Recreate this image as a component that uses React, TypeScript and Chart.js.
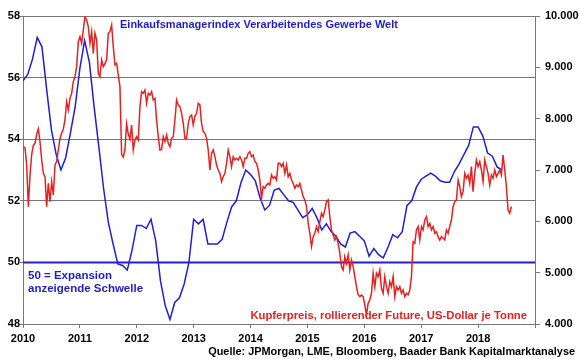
import { useEffect, useRef } from "react";
import { Chart, registerables } from "chart.js";

Chart.register(...registerables);

// ---- Data ----
// Global manufacturing PMI, monthly from Jan 2010
const pmiStartYear = 2010;
const pmiValues = [
  55.9, 56.1, 56.6, 57.3, 57.0, 55.6, 54.3, 53.5, 53.0, 53.4, 54.2, 55.05,
  56.3, 57.2, 56.5, 55.05, 53.75, 52.4, 51.3, 50.6, 49.95, 49.9, 49.75, 50.4,
  51.2, 51.2, 51.1, 51.4, 50.7, 49.4, 48.6, 48.15, 48.7, 48.85, 49.3, 50.0,
  51.4, 51.25, 51.4, 50.6, 50.6, 50.6, 50.75, 51.3, 51.8, 52.0, 52.6, 53.0,
  52.85, 52.65, 52.1, 51.7, 51.85, 52.35, 52.4, 52.2, 52.0, 51.95, 51.7, 51.45,
  51.55, 51.75, 51.45, 51.05, 51.25, 51.0, 50.85, 50.6, 50.5, 50.95, 51.0, 50.85,
  50.7, 50.2, 50.45, 50.25, 50.15, 50.5, 50.9, 50.8, 51.0, 51.85, 52.0, 52.45,
  52.7, 52.8, 52.9, 52.8, 52.65, 52.6, 52.6, 52.95, 53.2, 53.5, 53.8, 54.4,
  54.4, 54.1, 53.55, 53.45, 53.1, 53.0,
];

// Copper price (rolling future, USD/t), sampled roughly every 10-11 days from early Jan 2010
const copperStartYear = 2010.006;
const copperStepYears = 0.02928;
const copperValues = [
  7455, 7430, 7100, 6286, 6900, 7300, 7480, 7520, 7700, 7800,
  7550, 7200, 6935, 6870, 6286, 6740, 6384, 6773, 6513, 7098,
  7163, 7390, 7617, 7715, 7800, 7974, 8331, 8169, 8396, 8494,
  8721, 8818, 9013, 9500, 9598, 9468, 9727, 9990, 9922, 9792,
  9468, 9695, 9273, 9662, 9533, 8883, 8818, 9143, 9013, 9070,
  9150, 9662, 9695, 9825, 9403, 9046, 9078, 8851, 8624, 7300,
  7250, 7400, 7900, 7700, 7600, 7877, 7390, 7585, 7650, 7585,
  8234, 8526, 8494, 8559, 8300, 8494, 8461, 8526, 8364, 8396,
  7974, 7650, 7390, 7400, 7650, 7552, 7682, 7520, 7455, 7617,
  7650, 7974, 8364, 8267, 8234, 8104, 7910, 7617, 7617, 7910,
  8039, 8072, 7877, 8050,
  8104, 8299, 8267, 7910, 7747, 7715, 7617, 7390, 7000, 7325,
  7390, 7260, 7098, 7000, 6935, 6773, 6870, 6935, 7130, 7390,
  7260, 7065, 7260, 7195, 7228, 7195, 7260, 7195, 7065, 7228,
  7228, 7325, 7358, 7260, 7293, 7163, 7130, 7000, 6805, 6448,
  6675, 6643, 6708, 6740, 6708, 6903, 6838, 6870, 6805, 7130,
  7130,
  7065, 7130, 6935, 7098, 6870, 6935, 6805, 6740, 6643, 6708,
  6675, 6740, 6610, 6481, 6416, 6286, 5962, 5767, 5507, 5702,
  5767, 5897, 5799, 5994, 6156, 6091, 6221, 6384, 6416, 6091,
  5832, 5734, 5637, 5702, 5572, 5377, 5117, 5053, 5312, 5182,
  5345, 5053, 5247, 5117, 4923, 4728, 4566, 4533, 4566, 4533,
  4370,
  4176, 4403, 4468, 4598, 4988, 4728, 4988, 4923, 5053, 4695,
  4598, 4923, 4728, 4598, 4825, 4728, 4923, 4533, 4728, 4663,
  4728, 4598, 4663, 4533, 4598, 4566, 4663, 4923, 5600, 5572,
  5832, 5897, 5637, 5897, 5832, 6026, 6091, 5897, 5962, 5832,
  5897, 5767, 5799, 5702, 5637, 5702, 5669, 5637, 5832, 5767,
  5900,
  6026, 6286, 6384, 6416, 6805, 6675, 6481, 6578, 6935, 6838,
  6903, 6740, 7065, 6578, 6935, 7195, 7065, 7163, 7000, 6773,
  7195, 7065, 6935, 6708, 6903, 6838, 7000, 6870, 6935, 7000,
  6903, 7293, 7000, 6675, 6221, 6160, 6290,
];

const thresholdValue = 50;
const xMin = 2010;
const xMax = 2019;
const yearLabels = ["2010", "2011", "2012", "2013", "2014", "2015", "2016", "2017", "2018"];
const leftMin = 48, leftMax = 58, leftStep = 2;
const rightMin = 4000, rightMax = 10000, rightStep = 1000;

const titleText = "Einkaufsmanagerindex Verarbeitendes Gewerbe Welt";
const thresholdText1 = "50 = Expansion";
const thresholdText2 = "anzeigende Schwelle";
const copperText = "Kupferpreis, rollierender Future, US-Dollar je Tonne";
const sourceText = "Quelle: JPMorgan, LME, Bloomberg, Baader Bank Kapitalmarktanalyse";

// ---- Styles ----
const BLUE = "#2020cc";
const BLUE_TEXT = "#1e1ec8";
const RED = "#e32222";
const GRAY = "#777777";
const FONT_FAMILY = "'Liberation Sans', Arial, sans-serif";
const tickFont = { family: FONT_FAMILY, size: 11, weight: "bold" as const };

const textPlugin = {
  id: "chartTexts",
  afterDraw(chart: any) {
    const ctx = chart.ctx as CanvasRenderingContext2D;
    const a = chart.chartArea;
    ctx.save();
    ctx.textBaseline = "middle";
    ctx.fillStyle = BLUE_TEXT;
    ctx.textAlign = "left";
    ctx.font = `bold 11px ${FONT_FAMILY}`;
    ctx.fillText(titleText, a.left + 97, a.top + 9);
    ctx.font = `bold 11.5px ${FONT_FAMILY}`;
    ctx.fillText(thresholdText1, a.left + 5, a.top + 260);
    ctx.fillText(thresholdText2, a.left + 5, a.top + 273);
    ctx.fillStyle = RED;
    ctx.textAlign = "right";
    ctx.font = `bold 11.3px ${FONT_FAMILY}`;
    ctx.fillText(copperText, a.right - 8, a.bottom - 8);
    ctx.fillStyle = "#000";
    ctx.font = `bold 10.9px ${FONT_FAMILY}`;
    ctx.fillText(sourceText, chart.width - 5, a.bottom + 28);
    ctx.restore();
  },
};

export default function App() {
  const ref = useRef<HTMLCanvasElement | null>(null);

  useEffect(() => {
    if (!ref.current) return;
    const chart = new Chart(ref.current, {
      type: "line",
      data: {
        datasets: [
          {
            label: "Kupferpreis",
            data: copperValues.map((v, i) => ({ x: copperStartYear + i * copperStepYears, y: v })),
            yAxisID: "yR",
            borderColor: RED,
            borderWidth: 1.5,
            pointRadius: 0,
            tension: 0,
            order: 0,
          },
          {
            label: "PMI",
            data: pmiValues.map((v, i) => ({ x: pmiStartYear + i / 12, y: v })),
            yAxisID: "yL",
            borderColor: BLUE,
            borderWidth: 1.5,
            pointRadius: 0,
            tension: 0,
            order: 1,
          },
          {
            label: "Schwelle",
            data: [
              { x: xMin, y: thresholdValue },
              { x: xMax, y: thresholdValue },
            ],
            yAxisID: "yL",
            borderColor: BLUE,
            borderWidth: 2,
            pointRadius: 0,
            order: 2,
          },
        ],
      },
      options: {
        animation: false,
        responsive: false,
        maintainAspectRatio: false,
        layout: { padding: { top: 16, left: 0, right: 0, bottom: 0 } },
        plugins: { legend: { display: false }, tooltip: { enabled: false } },
        scales: {
          x: {
            type: "linear",
            min: xMin,
            max: xMax,
            ticks: {
              stepSize: 1,
              autoSkip: false,
              maxRotation: 0,
              padding: 4,
              color: "#000",
              font: tickFont,
              callback: (v: any) => {
                const idx = Math.round(Number(v)) - xMin;
                return yearLabels[idx] ?? "";
              },
            },
            grid: { drawOnChartArea: false, drawTicks: true, tickLength: 4, color: GRAY },
            border: { color: GRAY },
            afterFit: (s: any) => {
              s.height = 35;
            },
          },
          yL: {
            type: "linear",
            position: "left",
            min: leftMin,
            max: leftMax,
            ticks: { stepSize: leftStep, padding: 0, color: "#000", font: tickFont },
            grid: { color: GRAY, tickLength: 3 },
            border: { color: GRAY },
            afterFit: (s: any) => {
              s.width = 23;
            },
          },
          yR: {
            type: "linear",
            position: "right",
            min: rightMin,
            max: rightMax,
            ticks: {
              stepSize: rightStep,
              padding: 5,
              color: "#000",
              font: tickFont,
              callback: (v: any) => {
                const n = Number(v);
                const th = Math.floor(n / 1000);
                const rest = String(n % 1000).padStart(3, "0");
                return `${th}.${rest}`;
              },
            },
            grid: { drawOnChartArea: false, tickLength: 5, color: GRAY },
            border: { color: GRAY },
            afterFit: (s: any) => {
              s.width = 45;
            },
          },
        },
      },
      plugins: [textPlugin],
    });
    return () => chart.destroy();
  }, []);

  return (
    <div style={{ position: "fixed", left: 0, top: 0, width: 580, height: 359, background: "#fff" }}>
      <canvas ref={ref} width={580} height={359} />
    </div>
  );
}
